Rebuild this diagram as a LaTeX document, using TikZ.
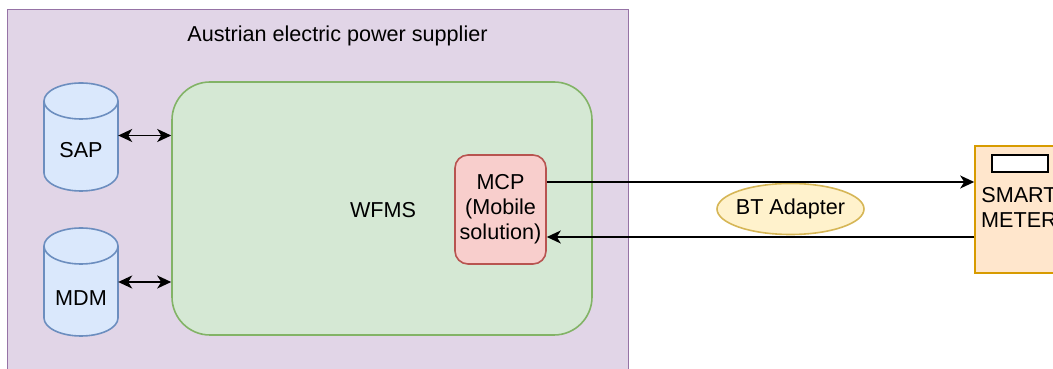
\documentclass[tikz,border=0pt]{standalone}
\usepackage{fontspec}
\setmainfont{Liberation Sans}
\usetikzlibrary{arrows.meta,shapes.geometric}
\definecolor{purfill}{HTML}{E1D5E7}\definecolor{purline}{HTML}{9673A6}
\definecolor{grnfill}{HTML}{D5E8D4}\definecolor{grnline}{HTML}{82B366}
\definecolor{blufill}{HTML}{DAE8FC}\definecolor{bluline}{HTML}{6C8EBF}
\definecolor{redfill}{HTML}{F8CECC}\definecolor{redline}{HTML}{B85450}
\definecolor{yelfill}{HTML}{FFF2CC}\definecolor{yelline}{HTML}{D6B656}
\definecolor{orafill}{HTML}{FFE6CC}\definecolor{oraline}{HTML}{D79B00}
\tikzset{
  lbl/.style={font=\fontsize{21.6}{25}\selectfont, align=center, inner sep=0pt},
  boxframe/.style={draw, line width=1.6pt, inner sep=0pt},
  cyl/.style={draw=bluline, fill=blufill, line width=1.6pt},
  tipk/.tip={Stealth[length=14pt,width=13pt,inset=4pt]},
  arr/.style={line width=1.8pt, -tipk},
  darr/.style={line width=1.8pt, tipk-tipk},
}
\begin{document}
\begin{tikzpicture}[x=1pt,y=1pt]
\useasboundingbox (0,0) rectangle (1053,369);
\clip (0,0) rectangle (1053,369);
% outer container
\node[boxframe, draw=purline, fill=purfill, line width=1.4pt, minimum width=621pt, minimum height=380pt, anchor=north west] (aeps) at (7,360) {};
\node[lbl] (title) at (337.5,333) {Austrian electric power supplier};
% WFMS
\node[boxframe, draw=grnline, fill=grnfill, rounded corners=38pt, minimum width=420pt, minimum height=253pt] (wfms) at (382,160.5) {};
\node[lbl] (wfmst) at (383,159) {WFMS};
% MCP
\node[boxframe, draw=redline, fill=redfill, rounded corners=13pt, minimum width=91pt, minimum height=109pt] (mcp) at (500.5,159.5) {};
\node[lbl] (mcpt) at (500.5,159.5) {MCP\\(Mobile\\solution)};
% cylinders
\node[inner sep=0pt, minimum width=74pt, minimum height=108pt] (sap) at (81,232) {};
\path[cyl] (44,268) -- (44,196) arc[start angle=180,end angle=360,x radius=37,y radius=18] -- (118,268) arc[start angle=0,end angle=180,x radius=37,y radius=18] -- cycle;
\draw[bluline, line width=1.6pt] (44,268) arc[start angle=180,end angle=360,x radius=37,y radius=18];
\node[lbl] (sapt) at (81,219) {SAP};
\node[inner sep=0pt, minimum width=74pt, minimum height=108pt] (mdm) at (81,87) {};
\path[cyl] (44,123) -- (44,51) arc[start angle=180,end angle=360,x radius=37,y radius=18] -- (118,123) arc[start angle=0,end angle=180,x radius=37,y radius=18] -- cycle;
\draw[bluline, line width=1.6pt] (44,123) arc[start angle=180,end angle=360,x radius=37,y radius=18];
\node[lbl] (mdmt) at (81,71) {MDM};
% smart meter
\node[boxframe, draw=oraline, fill=orafill, minimum width=89pt, minimum height=127pt] (meter) at (1019.5,159.5) {};
\node[boxframe, draw=black, fill=white, line width=1.4pt, minimum width=56pt, minimum height=17pt] (display) at (1020,205.5) {};
\node[lbl, anchor=center] (metert) at (1019,162) {SMART\\METER};
% BT adapter
\node[ellipse, draw=yelline, fill=yelfill, line width=1.6pt, minimum width=147pt, minimum height=51pt, inner sep=0pt] (bt) at (790.5,160) {};
\node[lbl] (btt) at (790.5,160) {BT Adapter};
% connectors
\draw[darr] ([yshift=1.5pt]sap.east) -- ([yshift=1.5pt]sap.east -| wfms.west);
\draw[darr] (mdm.east) -- (mdm.east -| wfms.west);
\draw[arr] ([yshift=27.5pt]mcp.east) -- ([yshift=27.5pt]meter.west);
\draw[arr] ([yshift=-27.5pt]meter.west) -- ([yshift=-27.5pt]mcp.east);
\end{tikzpicture}
\end{document}
